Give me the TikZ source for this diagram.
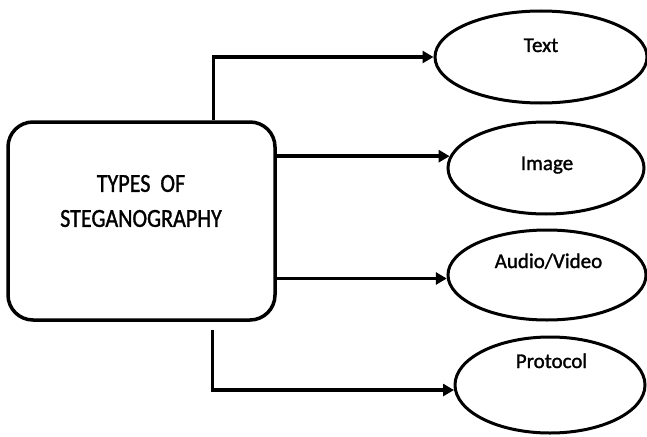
\documentclass[tikz,border=0pt]{standalone}
\usepackage{fontspec}
\setmainfont{Carlito}[FakeBold=1.2]
\newfontfamily\lblfont[FakeBold=1.4]{Carlito}
\newfontfamily\boxfont[FakeStretch=0.85,FakeBold=1.2]{Carlito}
\usetikzlibrary{arrows.meta,shapes.geometric}
\tikzset{
  mainbox/.style={draw, line width=3.5pt, rounded corners=25pt, minimum width=267pt, minimum height=198pt, inner sep=0pt},
  typeell/.style={draw, ellipse, line width=3pt, inner sep=0pt},
  lbl/.style={anchor=base, font=\lblfont\fontsize{21}{25}\selectfont, inner sep=0pt},
  arr/.style={line width=3.5pt, -{Triangle[length=11pt,width=12pt]}}
}
\begin{document}
\begin{tikzpicture}[x=1pt,y=-1pt]
\useasboundingbox (0,0) rectangle (647,436);
\node[mainbox] (box) at (141.5,221) {};
\node[align=center, font=\boxfont\fontsize{26}{35}\selectfont, inner sep=0pt] (boxtxt) at (141,201) {TYPES\ \ OF\\STEGANOGRAPHY};

\node[typeell, minimum width=212pt, minimum height=92pt] (txt) at (541,57) {};
\node[typeell, minimum width=196pt, minimum height=92pt] (img) at (546,168) {};
\node[typeell, minimum width=198pt, minimum height=90pt] (aud) at (547,275) {};
\node[typeell, minimum width=190pt, minimum height=96pt] (pro) at (550,385) {};

\node[lbl] (ltxt) at (541,52) {Text};
\node[lbl] (limg) at (547,170) {Image};
\node[lbl] (laud) at (548.5,268) {Audio/Video};
\node[lbl] (lpro) at (551.5,368) {Protocol};

\draw[arr] ([xshift=207pt]box.north west) |- (txt.west);
\draw[arr] (box.east |- img.173) -- (img.173);
\draw[arr] (box.east |- aud.182) -- (aud.182);
\draw[arr] ([shift={(206,8)}]box.south west) |- (pro.183);
\end{tikzpicture}
\end{document}
